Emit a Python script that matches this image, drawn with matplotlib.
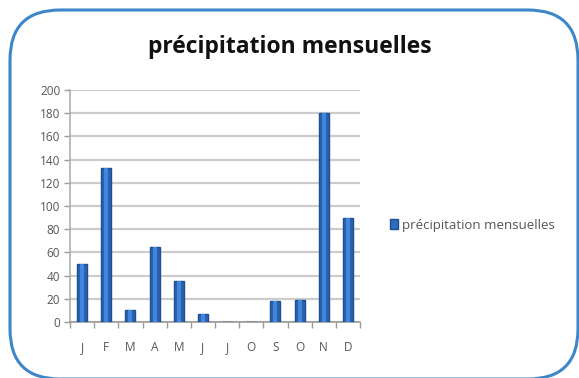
import matplotlib.pyplot as plt
import numpy as np
from matplotlib.patches import FancyBboxPatch

# Monthly values
months = ["J", "F", "M", "A", "M", "J", "J", "O", "S", "O", "N", "D"]
rain = [50, 133, 10, 65, 35, 7, 0, 0, 18, 19, 180, 90]
series_name = "précipitation mensuelles"
y_ticks = list(range(0, 201, 20))

W, H = 579, 378
fig = plt.figure(figsize=(W / 100, H / 100), dpi=100)
fig.patch.set_facecolor("white")
plt.rcParams["font.family"] = ["Open Sans", "DejaVu Sans"]

# Rounded blue frame, drawn on a background axes in pixel units
bg = fig.add_axes([0, 0, 1, 1], zorder=-1)
bg.set_xlim(0, W)
bg.set_ylim(H, 0)
bg.axis("off")
frame = FancyBboxPatch((10, 10), 568, 369,
                       boxstyle="round,pad=0,rounding_size=50",
                       facecolor="none", edgecolor="#3d87c9", linewidth=2.2)
bg.add_patch(frame)

ax = fig.add_axes([70 / W, 1 - 322 / H, 290 / W, (322 - 90) / H])
x = np.arange(len(months))
ax.bar(x, rain, width=0.42, color="#2a62b0", edgecolor="#1d4f91",
       linewidth=1.0, zorder=3)
# lighter core to hint at the shaded look of the original bars
ax.bar(x, rain, width=0.16, color="#3f86dc", linewidth=0, zorder=4)

ax.set_xlim(-0.5, len(months) - 0.5)
ax.set_ylim(0, 200)
ax.set_yticks(y_ticks)
ax.set_xticks(x)
ax.set_xticklabels(months)
ax.set_xticks(np.arange(-0.5, len(months), 1), minor=True)
ax.tick_params(axis="x", which="major", length=0, pad=14, labelsize=8.5,
               labelcolor="#555555")
ax.tick_params(axis="x", which="minor", length=4, color="#9a9a9a", width=1)
ax.tick_params(axis="y", length=4, color="#9a9a9a", width=1, pad=3,
               labelsize=8.5, labelcolor="#555555")
ax.yaxis.grid(True, color="#cccccc", linewidth=1.6, zorder=0)
for side in ["top", "right"]:
    ax.spines[side].set_visible(False)
ax.spines["left"].set_color("#b0b0b0")
ax.spines["bottom"].set_color("#9a9a9a")
ax.spines["left"].set_linewidth(1.2)
ax.spines["bottom"].set_linewidth(1.2)

fig.text(290 / W, 1 - 47 / H, "précipitation mensuelles", ha="center",
         va="center", fontsize=16.5, fontweight="bold", color="#111111")

leg = fig.legend([plt.Rectangle((0, 0), 1, 1, facecolor="#2f6cbf",
                                edgecolor="#1d4f91")],
                 [series_name], loc="center left",
                 bbox_to_anchor=(378 / W, 1 - 225 / H), frameon=False,
                 fontsize=9.5, handlelength=0.6, handleheight=0.7,
                 handletextpad=0.3)
for t in leg.get_texts():
    t.set_color("#555555")

fig.savefig("out.png", dpi=100)
